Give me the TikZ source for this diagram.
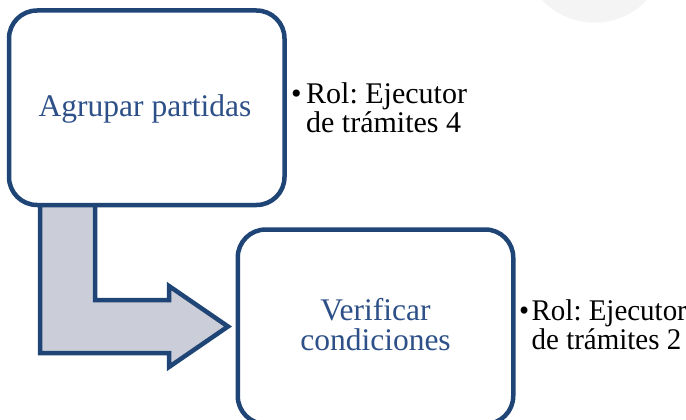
\documentclass[tikz,border=0pt]{standalone}
\usepackage{fontspec}
\setmainfont{Liberation Serif}
\newfontfamily\narrowserif{Liberation Serif}[FakeStretch=0.965]
\definecolor{boxblue}{HTML}{1F4577}
\definecolor{lblblue}{HTML}{2D5088}
\definecolor{arrowgrey}{HTML}{CBCED8}
\definecolor{ghost}{HTML}{F4F4F4}
\tikzset{
  stepbox/.style={draw=boxblue, line width=4.5pt, rounded corners=28pt, fill=white,
    minimum width=275.5pt, minimum height=194.5pt, inner sep=0pt},
  lbl/.style={text=lblblue, font=\fontsize{31.5}{29.5}\selectfont\frenchspacing, anchor=base, inner sep=0pt},
  rol/.style={text=black, font=\fontsize{30}{29.5}\selectfont\frenchspacing, anchor=base west, inner sep=0pt},
  bendarrow/.style={draw=boxblue, fill=arrowgrey, line width=4.5pt, line join=miter},
  ghostdisc/.style={fill=ghost, draw=none}
}
\begin{document}
\begin{tikzpicture}[x=1pt,y=-1pt]
\useasboundingbox (0,0) rectangle (686,420);
% faint disc at the top right
\fill[ghostdisc] (594.5,-49.3) circle[radius=72pt];
% bent block arrow
\coordinate (a0) at (40,200);
\coordinate (a1) at (95,200);
\coordinate (a2) at (95,300);
\coordinate (a3) at (169,300);
\coordinate (a4) at (169,286);
\coordinate (tip) at (228,326.5);
\coordinate (a6) at (169,367);
\coordinate (a7) at (169,353);
\coordinate (a8) at (40,353);
\draw[bendarrow] (a0) -- (a1) -- (a2) -- (a3) -- (a4) -- (tip) -- (a6) -- (a7) -- (a8) -- cycle;
% boxes
\node[stepbox] (b1) at (146.75,107.75) {};
\node[stepbox] (b2) at (375.5,326.75) {};
% box labels
\node[lbl] (t1) at (145,117) {Agrupar partidas};
\node[lbl] (t2) at (375.5,320) {\begin{tabular}[t]{@{}c@{}}Verificar\\condiciones\end{tabular}};
% role notes
\node[rol] (r1) at (291,103) {\begin{tabular}[t]{@{}l@{}}\makebox[15pt][l]{•}Rol: Ejecutor\\\hspace*{15pt}de trámites 4\end{tabular}};
\node[rol] (r2) at (519,320) {\narrowserif\begin{tabular}[t]{@{}l@{}}\makebox[12.5pt][l]{•}Rol: Ejecutor\\\hspace*{12.5pt}de trámites 2\end{tabular}};
\end{tikzpicture}
\end{document}
